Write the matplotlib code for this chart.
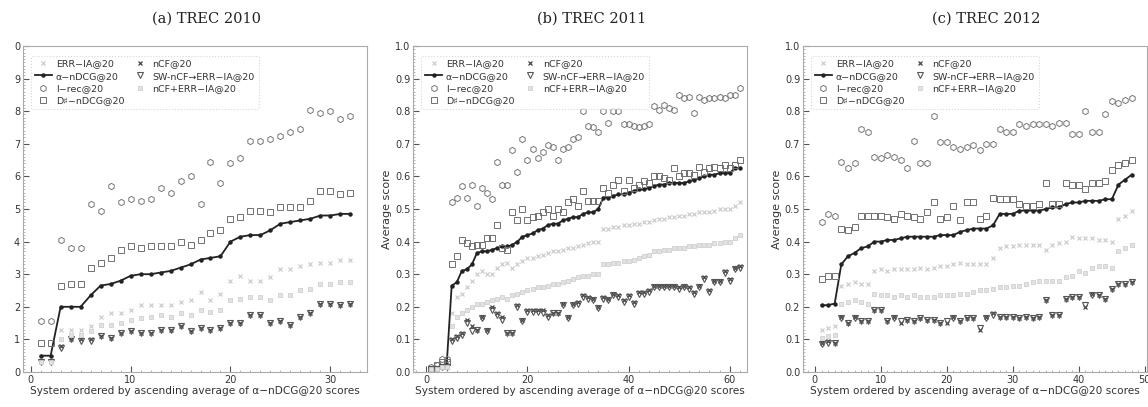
import matplotlib
matplotlib.use("Agg")
import matplotlib.pyplot as plt
from matplotlib.ticker import MultipleLocator

# ---- data ----
x_2010 = list(range(1, 33))
err_2010 = [0.03, 0.03, 0.13, 0.13, 0.13, 0.14, 0.17, 0.18, 0.18, 0.19, 0.205, 0.205, 0.205, 0.205, 0.215, 0.22,
            0.245, 0.22, 0.24, 0.28, 0.295, 0.28, 0.28, 0.29, 0.315, 0.315, 0.325, 0.33, 0.335, 0.335, 0.345, 0.345]
andcg_2010 = [0.05, 0.05, 0.2, 0.2, 0.2, 0.235, 0.265, 0.27, 0.28, 0.295, 0.3, 0.3, 0.305, 0.31, 0.32, 0.33,
              0.345, 0.35, 0.355, 0.4, 0.415, 0.42, 0.42, 0.435, 0.455, 0.46, 0.465, 0.47, 0.48, 0.48, 0.485, 0.485]
irec_2010 = [0.155, 0.155, 0.405, 0.38, 0.38, 0.515, 0.495, 0.57, 0.52, 0.53, 0.525, 0.53, 0.565, 0.55, 0.585, 0.6,
             0.515, 0.645, 0.58, 0.64, 0.655, 0.71, 0.71, 0.715, 0.725, 0.735, 0.745, 0.805, 0.795, 0.8, 0.775, 0.785]
dsharp_2010 = [0.09, 0.09, 0.265, 0.27, 0.27, 0.32, 0.335, 0.35, 0.375, 0.385, 0.38, 0.385, 0.385, 0.385, 0.4, 0.39,
               0.405, 0.425, 0.435, 0.47, 0.475, 0.495, 0.495, 0.49, 0.505, 0.505, 0.505, 0.525, 0.555, 0.555, 0.545, 0.55]
ncf_2010 = [0.035, 0.035, 0.08, 0.1, 0.1, 0.1, 0.11, 0.105, 0.12, 0.125, 0.12, 0.12, 0.13, 0.13, 0.14, 0.125,
            0.135, 0.13, 0.135, 0.15, 0.15, 0.175, 0.175, 0.15, 0.155, 0.145, 0.17, 0.18, 0.21, 0.21, 0.205, 0.21]
sw_2010 = [0.03, 0.03, 0.075, 0.1, 0.095, 0.095, 0.11, 0.105, 0.12, 0.125, 0.12, 0.12, 0.13, 0.13, 0.14, 0.125,
           0.135, 0.13, 0.135, 0.15, 0.15, 0.175, 0.175, 0.15, 0.155, 0.145, 0.17, 0.18, 0.21, 0.21, 0.205, 0.21]
comb_2010 = [0.03, 0.03, 0.1, 0.115, 0.115, 0.125, 0.145, 0.145, 0.15, 0.16, 0.165, 0.17, 0.175, 0.17, 0.18, 0.175,
             0.19, 0.185, 0.19, 0.22, 0.225, 0.23, 0.23, 0.22, 0.235, 0.235, 0.25, 0.255, 0.27, 0.27, 0.275, 0.275]

x_2011 = list(range(1, 63))
err_2011 = [0.01, 0.015, 0.02, 0.02, 0.18, 0.23, 0.24, 0.26, 0.28, 0.3, 0.31, 0.3, 0.3, 0.32, 0.33, 0.335,
            0.32, 0.33, 0.34, 0.35, 0.35, 0.355, 0.36, 0.365, 0.37, 0.37, 0.375, 0.38, 0.38, 0.385, 0.39, 0.395,
            0.4, 0.4, 0.44, 0.44, 0.445, 0.445, 0.45, 0.45, 0.455, 0.455, 0.46, 0.46, 0.465, 0.47, 0.47, 0.475,
            0.475, 0.48, 0.48, 0.485, 0.485, 0.49, 0.49, 0.49, 0.495, 0.5, 0.5, 0.5, 0.51, 0.52]
andcg_2011 = [0.01, 0.01, 0.015, 0.02, 0.265, 0.275, 0.31, 0.315, 0.33, 0.365, 0.37, 0.37, 0.375, 0.38, 0.385, 0.385,
              0.39, 0.4, 0.415, 0.42, 0.425, 0.435, 0.44, 0.45, 0.455, 0.455, 0.465, 0.47, 0.475, 0.475, 0.485, 0.49,
              0.49, 0.5, 0.535, 0.535, 0.54, 0.545, 0.545, 0.55, 0.555, 0.56, 0.56, 0.565, 0.57, 0.575, 0.575, 0.58,
              0.58, 0.58, 0.58, 0.585, 0.59, 0.595, 0.6, 0.605, 0.605, 0.61, 0.61, 0.61, 0.625, 0.625]
irec_2011 = [0.015, 0.02, 0.04, 0.04, 0.52, 0.535, 0.57, 0.535, 0.575, 0.51, 0.565, 0.55, 0.53, 0.645, 0.575, 0.575,
             0.68, 0.615, 0.715, 0.65, 0.685, 0.655, 0.675, 0.695, 0.69, 0.65, 0.685, 0.69, 0.715, 0.72, 0.8, 0.755,
             0.75, 0.735, 0.8, 0.765, 0.8, 0.8, 0.76, 0.76, 0.755, 0.75, 0.755, 0.76, 0.815, 0.805, 0.82, 0.81,
             0.805, 0.85, 0.84, 0.845, 0.795, 0.845, 0.835, 0.84, 0.84, 0.845, 0.84, 0.85, 0.85, 0.87]
dsharp_2011 = [0.01, 0.02, 0.03, 0.03, 0.33, 0.355, 0.405, 0.395, 0.385, 0.39, 0.39, 0.41, 0.41, 0.45, 0.38, 0.375,
               0.49, 0.465, 0.5, 0.465, 0.475, 0.48, 0.49, 0.5, 0.48, 0.5, 0.49, 0.52, 0.53, 0.51, 0.555, 0.525,
               0.525, 0.525, 0.565, 0.55, 0.575, 0.59, 0.555, 0.59, 0.565, 0.575, 0.585, 0.58, 0.6, 0.6, 0.595, 0.59,
               0.625, 0.6, 0.61, 0.61, 0.605, 0.63, 0.615, 0.625, 0.63, 0.625, 0.635, 0.625, 0.635, 0.65]
ncf_2011 = [0.01, 0.01, 0.015, 0.015, 0.1, 0.11, 0.12, 0.16, 0.14, 0.13, 0.17, 0.13, 0.2, 0.18, 0.17, 0.12,
            0.12, 0.205, 0.16, 0.19, 0.19, 0.19, 0.19, 0.175, 0.18, 0.18, 0.21, 0.17, 0.21, 0.215, 0.235, 0.23,
            0.225, 0.2, 0.23, 0.225, 0.24, 0.235, 0.22, 0.235, 0.215, 0.245, 0.245, 0.25, 0.265, 0.265, 0.265, 0.265,
            0.265, 0.26, 0.265, 0.26, 0.245, 0.265, 0.29, 0.25, 0.28, 0.28, 0.31, 0.285, 0.32, 0.325]
sw_2011 = [0.01, 0.01, 0.015, 0.015, 0.095, 0.105, 0.115, 0.15, 0.125, 0.13, 0.165, 0.125, 0.19, 0.175, 0.16, 0.12,
           0.12, 0.2, 0.155, 0.185, 0.185, 0.185, 0.18, 0.17, 0.18, 0.18, 0.205, 0.165, 0.205, 0.21, 0.23, 0.225,
           0.22, 0.195, 0.225, 0.22, 0.235, 0.23, 0.215, 0.23, 0.21, 0.24, 0.24, 0.245, 0.26, 0.26, 0.26, 0.26,
           0.26, 0.255, 0.26, 0.255, 0.24, 0.26, 0.285, 0.245, 0.275, 0.275, 0.305, 0.28, 0.315, 0.32]
comb_2011 = [0.01, 0.01, 0.015, 0.015, 0.14, 0.17, 0.18, 0.19, 0.2, 0.21, 0.21, 0.215, 0.22, 0.225, 0.23, 0.225,
             0.235, 0.24, 0.245, 0.25, 0.255, 0.26, 0.26, 0.265, 0.27, 0.27, 0.275, 0.28, 0.285, 0.29, 0.295, 0.295,
             0.3, 0.3, 0.33, 0.33, 0.335, 0.335, 0.34, 0.34, 0.345, 0.35, 0.355, 0.36, 0.37, 0.37, 0.375, 0.375,
             0.38, 0.38, 0.38, 0.385, 0.385, 0.39, 0.39, 0.39, 0.395, 0.395, 0.4, 0.4, 0.41, 0.42]

x_2012 = list(range(1, 49))
err_2012 = [0.13, 0.135, 0.14, 0.265, 0.27, 0.275, 0.27, 0.27, 0.31, 0.315, 0.31, 0.315, 0.315, 0.315, 0.315, 0.32,
            0.315, 0.32, 0.325, 0.325, 0.33, 0.335, 0.33, 0.33, 0.33, 0.33, 0.35, 0.38, 0.385, 0.385, 0.39, 0.39,
            0.39, 0.39, 0.375, 0.39, 0.395, 0.4, 0.415, 0.41, 0.41, 0.41, 0.405, 0.405, 0.4, 0.47, 0.48, 0.495]
andcg_2012 = [0.205, 0.205, 0.21, 0.33, 0.355, 0.365, 0.38, 0.385, 0.4, 0.4, 0.405, 0.405, 0.41, 0.415, 0.415, 0.415,
              0.415, 0.415, 0.42, 0.42, 0.42, 0.43, 0.435, 0.44, 0.44, 0.44, 0.45, 0.485, 0.485, 0.485, 0.495, 0.495,
              0.495, 0.495, 0.5, 0.505, 0.505, 0.515, 0.52, 0.52, 0.525, 0.525, 0.525, 0.53, 0.53, 0.575, 0.59, 0.605]
irec_2012 = [0.46, 0.485, 0.48, 0.645, 0.625, 0.64, 0.745, 0.735, 0.66, 0.655, 0.665, 0.66, 0.65, 0.625, 0.71, 0.64,
             0.64, 0.785, 0.705, 0.705, 0.69, 0.685, 0.69, 0.695, 0.68, 0.7, 0.7, 0.745, 0.735, 0.735, 0.76, 0.755,
             0.76, 0.76, 0.76, 0.755, 0.765, 0.765, 0.73, 0.73, 0.8, 0.735, 0.735, 0.79, 0.83, 0.825, 0.835, 0.84]
dsharp_2012 = [0.285, 0.295, 0.295, 0.44, 0.435, 0.445, 0.48, 0.48, 0.48, 0.48, 0.475, 0.47, 0.485, 0.48, 0.475, 0.47,
               0.49, 0.52, 0.47, 0.475, 0.51, 0.465, 0.52, 0.52, 0.47, 0.48, 0.535, 0.53, 0.53, 0.53, 0.515, 0.51,
               0.51, 0.515, 0.58, 0.515, 0.515, 0.58, 0.575, 0.575, 0.56, 0.58, 0.58, 0.585, 0.62, 0.635, 0.64, 0.65]
ncf_2012 = [0.09, 0.095, 0.09, 0.17, 0.15, 0.17, 0.155, 0.155, 0.19, 0.19, 0.155, 0.17, 0.15, 0.16, 0.155, 0.165,
            0.16, 0.16, 0.15, 0.15, 0.17, 0.155, 0.165, 0.165, 0.13, 0.17, 0.18, 0.17, 0.17, 0.17, 0.165, 0.17,
            0.165, 0.17, 0.22, 0.175, 0.175, 0.225, 0.23, 0.23, 0.2, 0.24, 0.235, 0.225, 0.255, 0.27, 0.27, 0.275]
sw_2012 = [0.085, 0.09, 0.09, 0.165, 0.15, 0.165, 0.155, 0.155, 0.19, 0.19, 0.155, 0.165, 0.155, 0.16, 0.155, 0.165,
           0.16, 0.16, 0.15, 0.155, 0.165, 0.155, 0.165, 0.165, 0.135, 0.165, 0.175, 0.17, 0.17, 0.17, 0.165, 0.17,
           0.165, 0.17, 0.22, 0.175, 0.175, 0.225, 0.23, 0.23, 0.205, 0.235, 0.235, 0.225, 0.255, 0.27, 0.27, 0.275]
comb_2012 = [0.105, 0.11, 0.115, 0.21, 0.215, 0.22, 0.215, 0.21, 0.24, 0.235, 0.235, 0.23, 0.235, 0.23, 0.235, 0.23,
             0.23, 0.23, 0.235, 0.235, 0.235, 0.24, 0.24, 0.245, 0.25, 0.25, 0.255, 0.26, 0.26, 0.265, 0.265, 0.27,
             0.275, 0.28, 0.28, 0.28, 0.28, 0.29, 0.295, 0.31, 0.305, 0.32, 0.325, 0.325, 0.32, 0.37, 0.38, 0.39]

titles = ["(a) TREC 2010", "(b) TREC 2011", "(c) TREC 2012"]
xlabel = "System ordered by ascending average of \u03b1\u2212nDCG@20 scores"
labels = ["ERR\u2212IA@20", "\u03b1\u2212nDCG@20", "I\u2212rec@20", "D\u266f\u2212nDCG@20",
          "nCF@20", "SW-nCF\u2192ERR\u2212IA@20", "nCF+ERR\u2212IA@20"]

panels = [
    (x_2010, [err_2010, andcg_2010, irec_2010, dsharp_2010, ncf_2010, sw_2010, comb_2010]),
    (x_2011, [err_2011, andcg_2011, irec_2011, dsharp_2011, ncf_2011, sw_2011, comb_2011]),
    (x_2012, [err_2012, andcg_2012, irec_2012, dsharp_2012, ncf_2012, sw_2012, comb_2012]),
]

styles = [
    dict(ls="none", marker="x", ms=3.5, mew=0.8, color="#c8c8c8"),
    dict(ls="-", lw=1.3, marker="o", ms=2.2, color="#222222"),
    dict(ls="none", marker="h", ms=4.5, mew=0.7, mfc="none", color="#777777"),
    dict(ls="none", marker="s", ms=3.8, mew=0.7, mfc="none", color="#707070"),
    dict(ls="none", marker="x", ms=3.5, mew=0.9, color="#444444"),
    dict(ls="none", marker="v", ms=3.8, mew=0.8, mfc="none", color="#555555"),
    dict(ls="none", marker="s", ms=3.2, mew=0.6, mfc="#e2e2e2", color="#d0d0d0"),
]

positions = [[0.020, 0.086, 0.300, 0.801],
             [0.360, 0.086, 0.291, 0.801],
             [0.6995, 0.086, 0.2995, 0.801]]
xlims = [(-0.77, 33.7), (-2.6, 63.5), (-1.8, 50.3)]
xmajor = [10, 20, 10]

fig = plt.figure(figsize=(11.48, 4.07), dpi=100)
for i, (xs, series) in enumerate(panels):
    ax = fig.add_axes(positions[i])
    handles = []
    for ys, st in zip(series, styles):
        h, = ax.plot(xs, ys, **st)
        handles.append(h)
    ax.set_xlim(*xlims[i])
    ax.set_ylim(0, 1.0)
    ax.xaxis.set_major_locator(MultipleLocator(xmajor[i]))
    ax.yaxis.set_major_locator(MultipleLocator(0.1))
    ax.xaxis.set_minor_locator(MultipleLocator(xmajor[i] / 10))
    ax.yaxis.set_minor_locator(MultipleLocator(0.01))
    ax.tick_params(which="major", direction="in", length=4, width=0.8, color="#555555",
                   labelsize=7, labelcolor="#333333", pad=2)
    ax.tick_params(which="minor", direction="in", length=1.5, width=0.5, color="#999999")
    ax.tick_params(top=False, right=False, which="both")
    for sp in ax.spines.values():
        sp.set_color("#aaaaaa")
        sp.set_linewidth(0.8)
    if i == 0:
        ax.set_yticks([k / 10 for k in range(11)])
        ax.set_yticklabels(["0", "1", "2", "3", "4", "5", "6", "7", "8", "9", "0"])
    else:
        ax.set_ylabel("Average score", fontsize=8, color="#333333", labelpad=2)
    ax.set_xlabel(xlabel, fontsize=7.6, color="#333333", labelpad=1)
    fig.text(positions[i][0] + positions[i][2] / 2 + 0.01, 0.955, titles[i],
             ha="center", va="center", fontsize=10.5, family="DejaVu Serif", color="#222222")
    leg = ax.legend(handles, labels, loc="upper left", ncol=2, fontsize=6.8,
                    frameon=True, borderpad=0.4, labelspacing=0.35, handlelength=1.8,
                    handletextpad=0.4, columnspacing=0.8, bbox_to_anchor=(0.01, 0.985))
    leg.get_frame().set_edgecolor("#cccccc")
    leg.get_frame().set_linestyle(":")
    leg.get_frame().set_linewidth(0.8)
    for t in leg.get_texts():
        t.set_color("#333333")

fig.savefig("out.png", dpi=100)
